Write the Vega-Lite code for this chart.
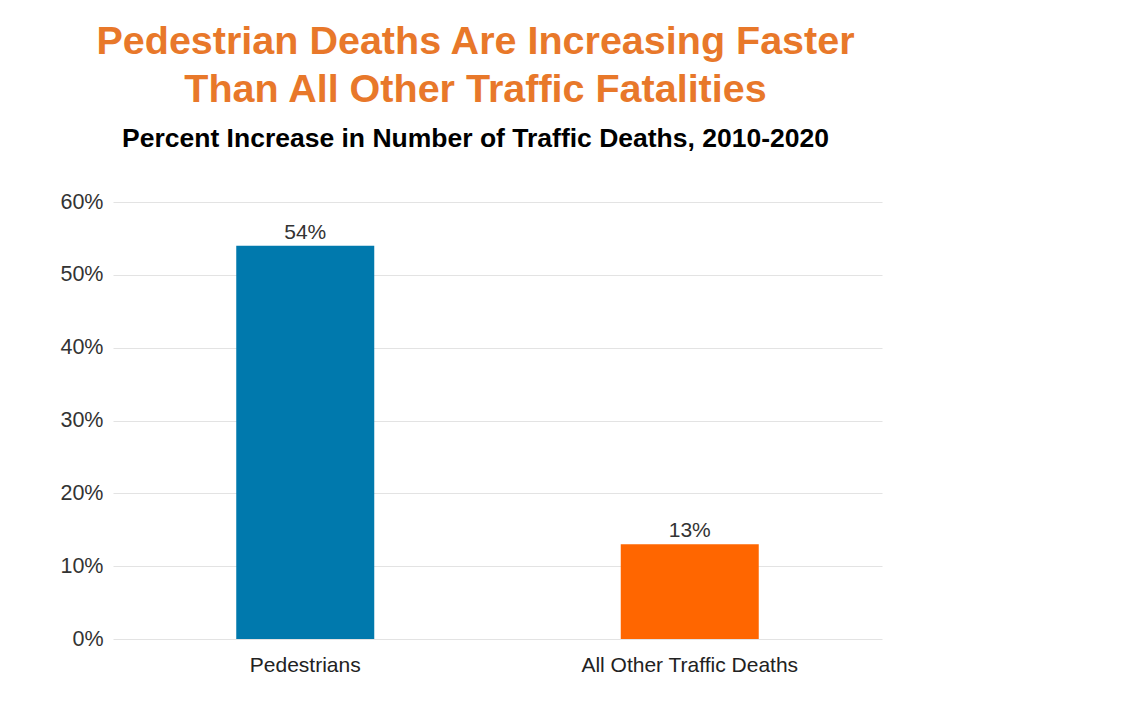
{
  "$schema": "https://vega.github.io/schema/vega-lite/v6.json",
  "autosize": {"type": "none"},
  "width": 769,
  "height": 437,
  "padding": {"left": 113, "top": 202, "right": 245, "bottom": 69},
  "background": "white",
  "title": {
    "text": ["Pedestrian Deaths Are Increasing Faster", "Than All Other Traffic Fatalities"],
    "subtitle": "Percent Increase in Number of Traffic Deaths, 2010-2020",
    "anchor": "middle",
    "dx": -22,
    "offset": 38,
    "font": "Liberation Sans",
    "fontSize": 39.5,
    "fontWeight": "bold",
    "color": "#E8782A",
    "lineHeight": 48,
    "subtitleFont": "Liberation Sans",
    "subtitleFontSize": 26.5,
    "subtitleFontWeight": "bold",
    "subtitleColor": "#000000",
    "subtitlePadding": 15
  },
  "data": {
    "values": [
      {"category": "Pedestrians", "pct": 54, "label": "54%"},
      {"category": "All Other Traffic Deaths", "pct": 13, "label": "13%"}
    ]
  },
  "encoding": {
    "x": {
      "field": "category",
      "type": "nominal",
      "sort": null,
      "scale": {"paddingInner": 0, "paddingOuter": 0},
      "axis": {
        "title": null,
        "labelAngle": 0,
        "labelFont": "Liberation Sans",
        "labelFontSize": 21,
        "labelColor": "#222222",
        "labelPadding": 15,
        "labelLimit": 0,
        "domain": false,
        "ticks": false
      }
    },
    "y": {
      "field": "pct",
      "type": "quantitative",
      "scale": {"domain": [0, 60]},
      "axis": {
        "title": null,
        "values": [0, 10, 20, 30, 40, 50, 60],
        "labelExpr": "datum.value + '%'",
        "labelFont": "Liberation Sans",
        "labelFontSize": 21.5,
        "labelColor": "#333333",
        "labelPadding": 10,
        "domain": false,
        "ticks": false,
        "grid": true,
        "gridColor": "#e3e3e3",
        "gridWidth": 1
      }
    }
  },
  "layer": [
    {
      "mark": {"type": "bar", "size": 138},
      "encoding": {
        "color": {
          "field": "category",
          "type": "nominal",
          "scale": {"domain": ["Pedestrians", "All Other Traffic Deaths"], "range": ["#0079AD", "#FF6600"]},
          "legend": null
        }
      }
    },
    {
      "mark": {"type": "text", "baseline": "alphabetic", "dy": -7, "font": "Liberation Sans", "fontSize": 21, "color": "#333333"},
      "encoding": {
        "text": {"field": "label", "type": "nominal"}
      }
    }
  ],
  "config": {
    "view": {"stroke": null}
  }
}
